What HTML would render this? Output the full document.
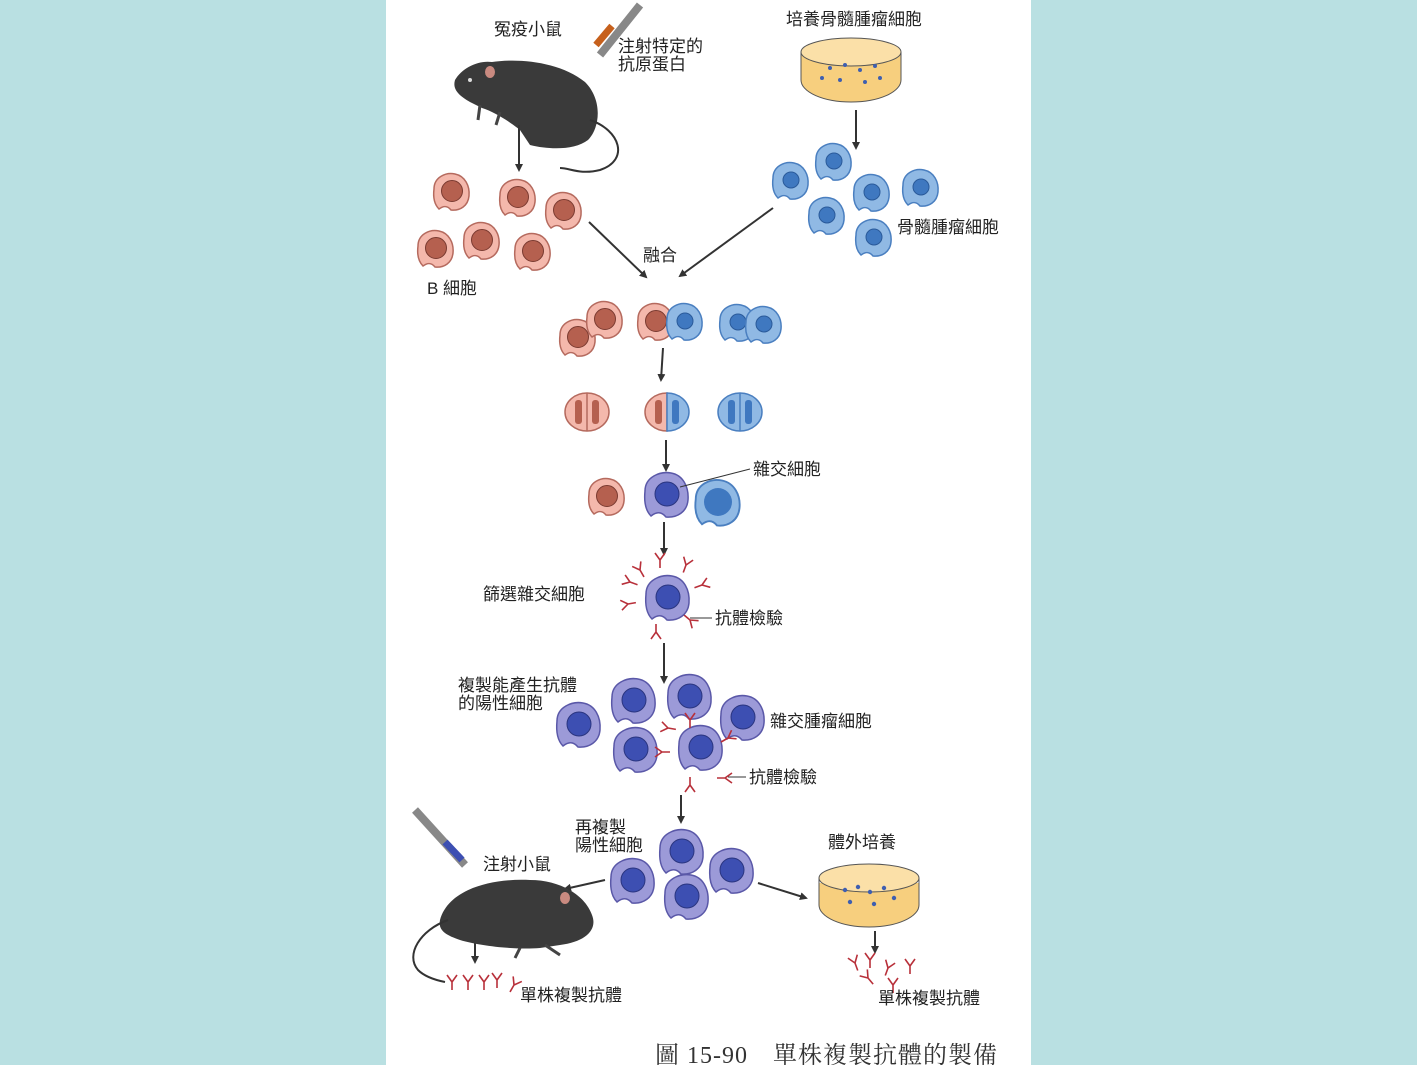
<!DOCTYPE html>
<html><head><meta charset="utf-8"><style>
body{margin:0;background:#b9e0e2;}
svg{display:block}
text{font-family:"Liberation Sans","Noto Sans CJK TC",sans-serif;font-size:17px;fill:#222}
</style></head><body>
<svg width="1417" height="1065" viewBox="0 0 1417 1065">
<defs>
<marker id="ar" markerWidth="8" markerHeight="8" refX="6" refY="4" orient="auto" markerUnits="userSpaceOnUse"><path d="M0,0 L8,4 L0,8 z" fill="#333"/></marker>
<g id="pk"><path d="M-17,-3 C-17,-15 -5,-20 4,-18 C14,-16 19,-6 18,4 C17,14 9,19 0,18 C-4,13 -8,14 -12,17 C-17,12 -18,5 -17,-3z" fill="#f4b8ac" stroke="#b56a5e" stroke-width="1.5"/><circle cx="1" cy="-1" r="10.5" fill="#b5604f" stroke="#7a3a30"/></g>
<g id="bl"><path d="M-17,-3 C-17,-15 -5,-20 4,-18 C14,-16 19,-6 18,4 C17,14 9,19 0,18 C-4,13 -8,14 -12,17 C-17,12 -18,5 -17,-3z" fill="#90b9e4" stroke="#4a7fc0" stroke-width="1.5"/><circle cx="1" cy="-1" r="8" fill="#3f78c0" stroke="#2a5a9a"/></g>
<g id="pu"><path d="M-21,-4 C-21,-18 -6,-24 5,-22 C17,-20 23,-8 22,5 C21,17 11,23 0,22 C-5,16 -10,17 -15,21 C-21,15 -22,6 -21,-4z" fill="#9c9ad8" stroke="#5a58a8" stroke-width="1.5"/><circle cx="1" cy="-1" r="12" fill="#3d4fb2" stroke="#2a3580"/></g>
<g id="ab"><path d="M0,8 L0,0 M0,0 L-5,-7 M0,0 L5,-7" stroke="#b8303a" stroke-width="1.6" fill="none"/></g>
</defs>
<rect x="386" y="0" width="645" height="1065" fill="#fff"/>

<!-- top mouse -->
<path d="M455,80 C462,68 478,60 492,62 C520,58 560,62 585,82 C603,100 600,128 588,140 C575,150 550,150 530,145 L520,130 C510,122 495,112 482,108 L470,102 C460,96 452,90 455,80z" fill="#3a3a3a"/>
<path d="M480,105 L478,120 M500,112 L496,125" stroke="#444" stroke-width="3"/>
<ellipse cx="490" cy="72" rx="5" ry="6" fill="#c98a80"/>
<circle cx="470" cy="80" r="2" fill="#ddd"/>
<path d="M590,120 C620,130 630,160 600,170 C580,175 570,168 560,168" stroke="#333" stroke-width="2" fill="none"/>
<path d="M600,55 L640,5" stroke="#888" stroke-width="8"/><path d="M596,45 L612,26" stroke="#c6601c" stroke-width="7"/>
<text x="494" y="35">冤疫小鼠</text>
<text x="618" y="52">注射特定的</text><text x="618" y="70">抗原蛋白</text>
<text x="786" y="25">培養骨髓腫瘤細胞</text>
<ellipse cx="851" cy="80" rx="50" ry="22" fill="#f7cf7e" stroke="#555"/>
<rect x="801" y="55" width="100" height="25" fill="#f7cf7e"/>
<path d="M801,52 L801,80 M901,52 L901,80" stroke="#555"/>
<ellipse cx="851" cy="52" rx="50" ry="14" fill="#fbe0a8" stroke="#555"/>
<g fill="#3f5fb0"><circle cx="830" cy="68" r="2"/><circle cx="845" cy="65" r="2"/><circle cx="860" cy="70" r="2"/><circle cx="875" cy="66" r="2"/><circle cx="840" cy="80" r="2"/><circle cx="865" cy="82" r="2"/><circle cx="822" cy="78" r="2"/><circle cx="880" cy="78" r="2"/></g>
<g stroke="#333" stroke-width="2" marker-end="url(#ar)">
<line x1="519" y1="125" x2="519" y2="170"/>
<line x1="856" y1="110" x2="856" y2="148"/>
<line x1="589" y1="222" x2="646" y2="277"/>
<line x1="773" y1="208" x2="680" y2="276"/>
<line x1="663" y1="348" x2="661" y2="380"/>
<line x1="666" y1="440" x2="666" y2="470"/>
<line x1="664" y1="522" x2="664" y2="554"/>
<line x1="664" y1="643" x2="664" y2="682"/>
<line x1="681" y1="795" x2="681" y2="822"/>
<line x1="605" y1="880" x2="565" y2="889"/>
<line x1="758" y1="883" x2="806" y2="898"/>
<line x1="475" y1="935" x2="475" y2="962"/>
<line x1="875" y1="931" x2="875" y2="952"/>
</g>
<use href="#pk" x="451" y="192"/><use href="#pk" x="517" y="198"/><use href="#pk" x="563" y="211"/>
<use href="#pk" x="435" y="249"/><use href="#pk" x="481" y="241"/><use href="#pk" x="532" y="252"/>
<use href="#bl" x="790" y="181"/><use href="#bl" x="833" y="162"/><use href="#bl" x="871" y="193"/>
<use href="#bl" x="920" y="188"/><use href="#bl" x="826" y="216"/><use href="#bl" x="873" y="238"/>
<text x="427" y="294">B 細胞</text>
<text x="897" y="233">骨髓腫瘤細胞</text>
<text x="643" y="261">融合</text>
<use href="#pk" x="577" y="338"/><use href="#pk" x="604" y="320"/>
<use href="#pk" x="655" y="322"/><use href="#bl" x="684" y="322"/>
<use href="#bl" x="737" y="323"/><use href="#bl" x="763" y="325"/>
<!-- dividing -->
<g stroke-width="1.5">
<ellipse cx="587" cy="412" rx="22" ry="19" fill="#f4b8ac" stroke="#b56a5e"/><line x1="587" y1="393" x2="587" y2="431" stroke="#b56a5e"/>
<rect x="575" y="400" width="7" height="24" rx="3" fill="#b5604f"/><rect x="592" y="400" width="7" height="24" rx="3" fill="#b5604f"/>
<path d="M667,393 A22,19 0 0 0 667,431z" fill="#f4b8ac" stroke="#b56a5e"/><path d="M667,393 A22,19 0 0 1 667,431z" fill="#90b9e4" stroke="#4a7fc0"/>
<rect x="655" y="400" width="7" height="24" rx="3" fill="#b5604f"/><rect x="672" y="400" width="7" height="24" rx="3" fill="#3f78c0"/>
<ellipse cx="740" cy="412" rx="22" ry="19" fill="#90b9e4" stroke="#4a7fc0"/><line x1="740" y1="393" x2="740" y2="431" stroke="#4a7fc0"/>
<rect x="728" y="400" width="7" height="24" rx="3" fill="#3f78c0"/><rect x="745" y="400" width="7" height="24" rx="3" fill="#3f78c0"/>
</g>
<use href="#pk" x="606" y="497"/><use href="#pu" x="666" y="495"/>
<g transform="translate(717,503) scale(1.25)"><use href="#bl"/></g><circle cx="718" cy="502" r="14" fill="#3f78c0"/>
<line x1="680" y1="487" x2="750" y2="469" stroke="#333"/>
<text x="753" y="475">雜交細胞</text>
<!-- selection -->
<use href="#ab" transform="translate(660,560)"/><use href="#ab" transform="translate(686,565) rotate(20)"/><use href="#ab" transform="translate(640,570) rotate(-30)"/>
<use href="#ab" transform="translate(630,582) rotate(-70)"/><use href="#ab" transform="translate(702,585) rotate(70)"/><use href="#ab" transform="translate(628,604) rotate(-100)"/>
<use href="#ab" transform="translate(656,632) rotate(180)"/><use href="#ab" transform="translate(690,620) rotate(130)"/>
<use href="#pu" x="667" y="598"/>
<line x1="690" y1="618" x2="712" y2="618" stroke="#333"/>
<text x="483" y="600">篩選雜交細胞</text>
<text x="715" y="624">抗體檢驗</text>
<!-- cluster -->
<use href="#pu" x="578" y="725"/><use href="#pu" x="633" y="701"/><use href="#pu" x="689" y="697"/>
<use href="#pu" x="742" y="718"/><use href="#pu" x="635" y="750"/><use href="#pu" x="700" y="748"/>
<use href="#ab" transform="translate(668,728) rotate(-80)"/><use href="#ab" transform="translate(690,720)"/><use href="#ab" transform="translate(728,738) rotate(60)"/>
<use href="#ab" transform="translate(662,752) rotate(-90)"/><use href="#ab" transform="translate(690,785) rotate(180)"/><use href="#ab" transform="translate(725,778) rotate(90)"/>
<line x1="728" y1="777" x2="746" y2="777" stroke="#333"/>
<text x="458" y="691">複製能產生抗體</text><text x="458" y="709">的陽性細胞</text>
<text x="770" y="727">雜交腫瘤細胞</text>
<text x="749" y="783">抗體檢驗</text>
<!-- bottom -->
<use href="#pu" x="681" y="852"/><use href="#pu" x="632" y="881"/><use href="#pu" x="731" y="871"/><use href="#pu" x="686" y="897"/>
<text x="575" y="833">再複製</text><text x="575" y="851">陽性細胞</text>
<text x="483" y="870">注射小鼠</text>
<text x="828" y="848">體外培養</text>
<!-- bottom mouse -->
<path d="M440,920 C448,890 490,878 530,880 C560,880 585,895 592,915 C598,930 585,942 560,945 L540,948 C515,950 480,946 460,940 C445,935 438,930 440,920z" fill="#3a3a3a"/>
<path d="M545,945 L560,955 M520,948 L515,958" stroke="#444" stroke-width="3"/>
<ellipse cx="565" cy="898" rx="5" ry="6" fill="#c98a80"/>
<path d="M448,920 C420,930 405,955 418,970 C425,977 435,980 445,982" stroke="#333" stroke-width="2" fill="none"/>
<path d="M415,810 L465,865" stroke="#888" stroke-width="8"/><path d="M445,842 L462,860" stroke="#3d4fb2" stroke-width="7"/>
<use href="#ab" transform="translate(452,982)"/><use href="#ab" transform="translate(468,982)"/><use href="#ab" transform="translate(484,982)"/><use href="#ab" transform="translate(497,980)"/><use href="#ab" transform="translate(514,985) rotate(30)"/>
<text x="520" y="1001">單株複製抗體</text>
<ellipse cx="869" cy="905" rx="50" ry="22" fill="#f7cf7e" stroke="#555"/>
<rect x="819" y="883" width="100" height="22" fill="#f7cf7e"/>
<ellipse cx="869" cy="878" rx="50" ry="14" fill="#fbe0a8" stroke="#555"/>
<path d="M819,878 L819,905 M919,878 L919,905" stroke="#555"/>
<g fill="#3f5fb0"><circle cx="845" cy="890" r="2.2"/><circle cx="858" cy="887" r="2.2"/><circle cx="870" cy="892" r="2.2"/><circle cx="884" cy="888" r="2.2"/><circle cx="850" cy="902" r="2.2"/><circle cx="874" cy="904" r="2.2"/><circle cx="894" cy="898" r="2.2"/></g>
<use href="#ab" transform="translate(855,963) rotate(-20)"/><use href="#ab" transform="translate(870,960)"/><use href="#ab" transform="translate(888,968) rotate(20)"/>
<use href="#ab" transform="translate(910,966)"/><use href="#ab" transform="translate(868,978) rotate(-40)"/><use href="#ab" transform="translate(893,985)"/>
<text x="878" y="1004">單株複製抗體</text>
<text x="655" y="1063" textLength="342" style="font-family:'Liberation Serif','Noto Serif CJK SC',serif;font-size:24px;fill:#333">圖 15-90　單株複製抗體的製備</text>
</svg>
</body></html>
